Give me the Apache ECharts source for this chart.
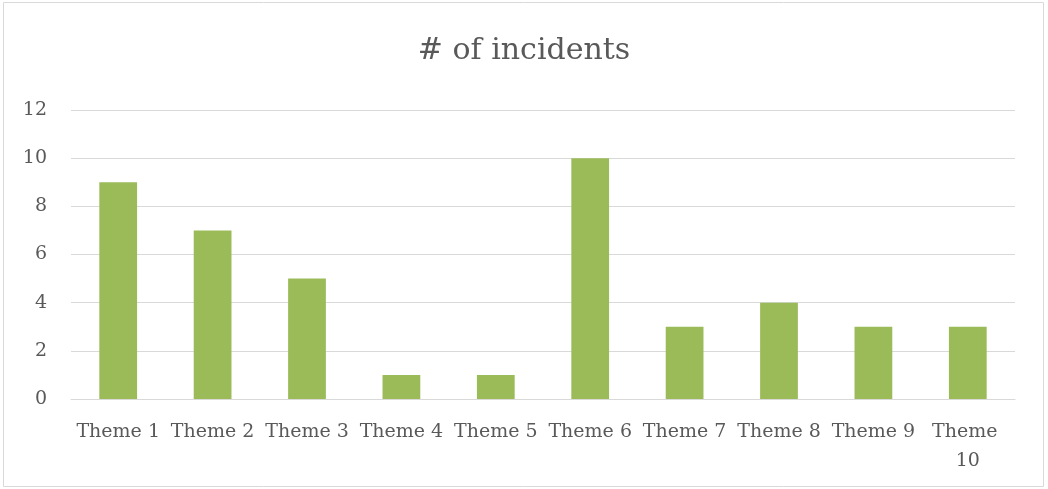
<!DOCTYPE html>
<html>
<head>
<meta charset="utf-8">
<script src="https://cdn.jsdelivr.net/npm/echarts@6/dist/echarts.min.js"></script>
<style>
  html, body { margin: 0; padding: 0; background: #fff; }
  #chart { width: 1048px; height: 489px; }
</style>
</head>
<body>
<div id="chart"></div>
<script>
const categories = ['Theme 1', 'Theme 2', 'Theme 3', 'Theme 4', 'Theme 5', 'Theme 6', 'Theme 7', 'Theme 8', 'Theme 9', 'Theme 10']
const incidents = [9, 7, 5, 1, 1, 10, 3, 4, 3, 3]

const font = "'DejaVu Serif', 'Liberation Serif', serif"
const chart = echarts.init(document.getElementById('chart'))

chart.setOption({
  animation: false,
  title: {
    text: '# of incidents',
    left: 'center',
    top: 31,
    textStyle: { fontFamily: font, fontSize: 30, fontWeight: 'normal', color: '#595959' }
  },
  graphic: [
    {
      type: 'rect',
      shape: { x: 3.5, y: 2.5, width: 1040, height: 484 },
      style: { fill: 'none', stroke: '#d9d9d9', lineWidth: 1 },
      silent: true
    }
  ],
  grid: { left: 71, right: 33, top: 110, bottom: 90 },
  xAxis: {
    type: 'category',
    data: categories,
    axisLine: { lineStyle: { color: '#d9d9d9', width: 1 } },
    axisTick: { show: false },
    axisLabel: {
      interval: 0,
      margin: 19,
      width: 90,
      overflow: 'break',
      lineHeight: 29,
      fontFamily: font,
      fontSize: 19,
      color: '#595959'
    }
  },
  yAxis: {
    type: 'value',
    min: 0,
    max: 12,
    interval: 2,
    axisLine: { show: false },
    axisTick: { show: false },
    splitLine: { lineStyle: { color: '#d9d9d9', width: 1 } },
    axisLabel: { margin: 24, fontFamily: font, fontSize: 19, color: '#595959' }
  },
  series: [
    {
      type: 'bar',
      data: incidents,
      barWidth: '40%',
      itemStyle: { color: '#9bbb59' }
    }
  ]
})
</script>
</body>
</html>
